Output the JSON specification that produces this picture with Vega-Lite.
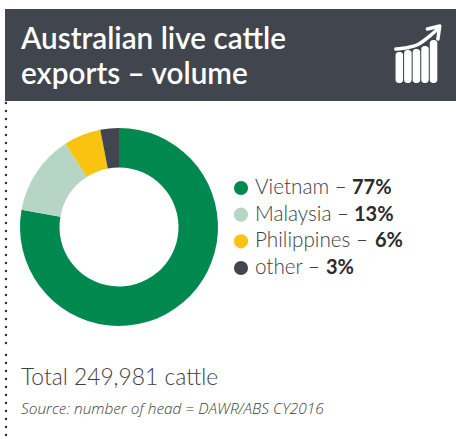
{
  "$schema": "https://vega.github.io/schema/vega-lite/v6.json",
  "padding": {"left": 4, "top": 9, "right": 0, "bottom": 0},
  "background": "#ffffff",
  "spacing": 0,
  "config": {
    "view": {"stroke": null},
    "font": "Lato",
    "concat": {"spacing": 0}
  },
  "datasets": {
    "shares": [
      {"country": "Vietnam", "caption": "Vietnam –", "share": 0.77},
      {"country": "Malaysia", "caption": "Malaysia –", "share": 0.13},
      {"country": "Philippines", "caption": "Philippines –", "share": 0.06},
      {"country": "other", "caption": "other –", "share": 0.03}
    ],
    "iconBars": [
      {"bar": 1, "level": 31},
      {"bar": 2, "level": 33},
      {"bar": 3, "level": 34},
      {"bar": 4, "level": 37},
      {"bar": 5, "level": 43}
    ],
    "iconArrow": [
      {"part": "curve", "step": 1, "bar": 0.6, "level": 34},
      {"part": "curve", "step": 2, "bar": 2.0, "level": 35.5},
      {"part": "curve", "step": 3, "bar": 3.05, "level": 38},
      {"part": "curve", "step": 4, "bar": 4.7, "level": 48},
      {"part": "curve", "step": 5, "bar": 5.6, "level": 55},
      {"part": "head", "step": 1, "bar": 4.28, "level": 54},
      {"part": "head", "step": 2, "bar": 5.72, "level": 57},
      {"part": "head", "step": 3, "bar": 5.51, "level": 44}
    ]
  },
  "vconcat": [
    {
      "spacing": 0,
      "hconcat": [
        {
          "width": 370,
          "height": 92,
          "view": {"fill": "#41464e", "stroke": null},
          "data": {"values": [{"line": "Australian live cattle"}, {"line": "exports – volume"}]},
          "mark": {"type": "text", "align": "left", "baseline": "middle", "fontSize": 29.7, "fontWeight": 600, "color": "#ffffff"},
          "encoding": {
            "x": {"value": 16},
            "y": {"field": "line", "type": "nominal", "sort": null, "axis": null, "scale": {"type": "point", "padding": 0, "range": [31, 66]}},
            "text": {"field": "line"}
          }
        },
        {
          "width": 82,
          "height": 92,
          "view": {"fill": "#41464e", "stroke": null},
          "layer": [
            {
              "data": {"name": "iconBars"},
              "mark": {"type": "bar", "orient": "vertical", "size": 7.5, "cornerRadius": 3, "color": "#ffffff"},
              "encoding": {
                "x": {"field": "bar", "type": "quantitative", "axis": null, "scale": {"domain": [-1.256, 7.154], "nice": false, "zero": false}},
                "y": {"field": "level", "type": "quantitative", "axis": null, "scale": {"domain": [-18, 74], "nice": false, "zero": false}},
                "y2": {"datum": 0}
              }
            },
            {
              "data": {"name": "iconArrow"},
              "mark": {"type": "line", "color": "#ffffff", "strokeWidth": 3.5, "strokeCap": "round", "strokeJoin": "round", "interpolate": "monotone"},
              "transform": [{"filter": "datum.part === 'curve'"}],
              "encoding": {
                "x": {"field": "bar", "type": "quantitative", "axis": null},
                "y": {"field": "level", "type": "quantitative", "axis": null},
                "order": {"field": "step"}
              }
            },
            {
              "data": {"name": "iconArrow"},
              "mark": {"type": "line", "color": "#ffffff", "strokeWidth": 3.5, "strokeCap": "round", "strokeJoin": "round"},
              "transform": [{"filter": "datum.part === 'head'"}],
              "encoding": {
                "x": {"field": "bar", "type": "quantitative", "axis": null},
                "y": {"field": "level", "type": "quantitative", "axis": null},
                "order": {"field": "step"}
              }
            }
          ]
        }
      ]
    },
    {
      "spacing": 0,
      "hconcat": [
        {
          "width": 228,
          "height": 248,
          "layer": [
            {
              "data": {"values": [{"edge": "left"}]},
              "mark": {"type": "rule", "color": "#2f2f2f", "strokeWidth": 2.4, "strokeCap": "round", "strokeDash": [0.1, 7.9]},
              "encoding": {"x": {"value": 1}}
            },
            {
              "data": {"name": "shares"},
              "mark": {"type": "arc", "outerRadius": 99, "innerRadius": 59.5},
              "encoding": {
                "theta": {"field": "share", "type": "quantitative", "stack": true},
                "color": {
                  "field": "country",
                  "type": "nominal",
                  "legend": null,
                  "scale": {
                    "domain": ["Vietnam", "Malaysia", "Philippines", "other"],
                    "range": ["#00894f", "#b7d5c5", "#f9c30f", "#41464e"]
                  }
                },
                "order": {"field": "share", "sort": "descending"}
              }
            }
          ]
        },
        {
          "width": 224,
          "height": 248,
          "data": {"name": "shares"},
          "encoding": {
            "y": {
              "field": "country",
              "type": "nominal",
              "sort": null,
              "axis": null,
              "scale": {"domain": ["Vietnam", "Malaysia", "Philippines", "other"], "range": [85, 165], "type": "point", "padding": 0}
            }
          },
          "layer": [
            {
              "mark": {"type": "point", "filled": true, "opacity": 1, "size": 200},
              "encoding": {
                "x": {"value": 7},
                "color": {
                  "field": "country",
                  "type": "nominal",
                  "legend": null,
                  "scale": {
                    "domain": ["Vietnam", "Malaysia", "Philippines", "other"],
                    "range": ["#00894f", "#b7d5c5", "#f9c30f", "#41464e"]
                  }
                }
              }
            },
            {
              "mark": {"type": "text", "align": "left", "baseline": "middle", "fontSize": 20.7, "fontWeight": 300, "color": "#414042"},
              "encoding": {"x": {"value": 21}, "text": {"field": "caption"}}
            },
            {
              "mark": {
                "type": "text",
                "align": "left",
                "baseline": "middle",
                "fontSize": 20,
                "fontWeight": "bold",
                "color": "#2b2b2b",
                "dx": {"expr": "{'Vietnam': 97, 'Malaysia': 99, 'Philippines': 120, 'other': 71}[datum.country]"}
              },
              "encoding": {
                "x": {"value": 21},
                "text": {"field": "share", "type": "quantitative", "format": ".0%"}
              }
            }
          ]
        }
      ]
    },
    {
      "width": 452,
      "height": 90,
      "layer": [
        {
          "data": {"values": [{"edge": "left"}]},
          "mark": {"type": "rule", "color": "#2f2f2f", "strokeWidth": 2.4, "strokeCap": "round", "strokeDash": [0.1, 7.9]},
          "encoding": {"x": {"value": 1}}
        },
        {
          "data": {"values": [{"line": "Total 249,981 cattle"}]},
          "mark": {"type": "text", "align": "left", "baseline": "middle", "fontSize": 22.8, "fontWeight": 300, "color": "#414042", "y": 23},
          "encoding": {"x": {"value": 16}, "text": {"field": "line"}}
        },
        {
          "data": {"values": [{"line": "Source: number of head = DAWR/ABS CY2016"}]},
          "mark": {"type": "text", "align": "left", "baseline": "middle", "font": "Open Sans", "fontSize": 15.4, "fontStyle": "italic", "fontWeight": 300, "color": "#414042", "y": 54},
          "encoding": {"x": {"value": 16}, "text": {"field": "line"}}
        }
      ]
    }
  ]
}
